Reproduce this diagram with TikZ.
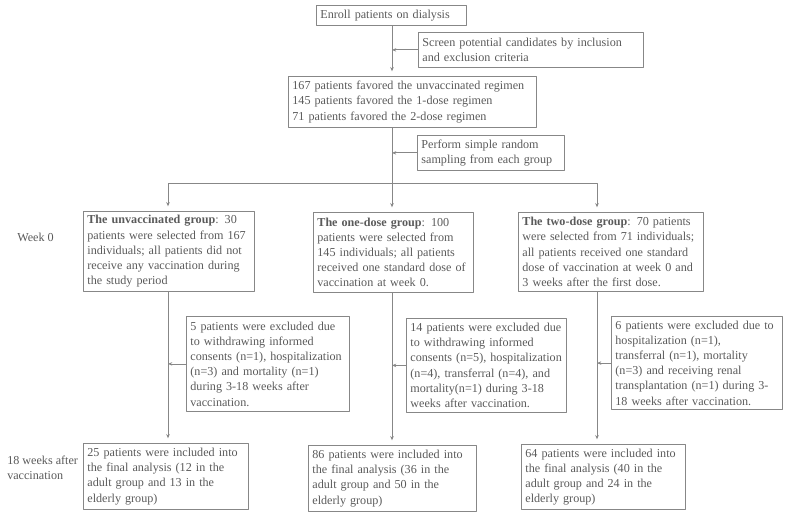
\documentclass[tikz,border=0pt]{standalone}
\usepackage{fontspec}
\setmainfont{Liberation Serif}
\usetikzlibrary{arrows.meta}
\definecolor{txtgray}{RGB}{90,90,90}
\definecolor{linegray}{RGB}{135,135,135}
\begin{document}
\begin{tikzpicture}[x=0.75pt, y=-0.75pt, line join=round, line cap=round, >={Stealth[length=3.2pt,width=2.6pt]},
	box/.style={draw=linegray, line width=0.6pt, text=txtgray, anchor=north west, align=left, inner xsep=3pt, inner ysep=1pt,
		font=\fontsize{9.1}{11.4}\selectfont, execute at begin node={\hyphenpenalty=10000\linepenalty=5000}},
	side/.style={text=txtgray, anchor=west, align=left, inner sep=0pt, font=\fontsize{9.1}{11.4}\selectfont},
	link/.style={draw=linegray, line width=0.6pt, ->}]
	\useasboundingbox (0,0) rectangle (787,516);
	
	% Enrollment and screening
	\node[box, text width=106.5pt, minimum height=15pt] (enroll) at (316,5) {Enroll patients on dialysis};
	\node[box, text width=162.75pt, minimum height=26.25pt] (screen) at (418,32) {Screen potential candidates by inclusion\\and exclusion criteria};
	\node[box, text width=180pt, minimum height=38.25pt] (favor) at (288,76) {167 patients favored the unvaccinated regimen\\145 patients favored the 1-dose regimen\\71 patients favored the 2-dose regimen};
	\node[box, text width=104.25pt, minimum height=26.25pt] (sample) at (417,135) {Perform simple random\\sampling from each group};
	
	% Branch points
	\coordinate (fork) at (392,183); \coordinate (forkL) at (168,183); \coordinate (forkR) at (597,183);
	
	% Groups at week 0
	\node[box, text width=122.25pt, minimum height=60pt] (unvac) at (83,211) {\textbf{The unvaccinated group}: 30\\patients were selected from 167\\individuals; all patients did not\\receive any vaccination during\\the study period};
	\node[box, text width=114pt, minimum height=60pt] (one) at (313,212) {\textbf{The one-dose group}: 100\\patients were selected from\\145 individuals; all patients\\received one standard dose of\\vaccination at week 0.};
	\node[box, text width=132.75pt, minimum height=59.5pt] (two) at (518,212) {\textbf{The two-dose group}: 70 patients\\were selected from 71 individuals;\\all patients received one standard\\dose of vaccination at week 0 and\\3 weeks after the first dose.};
	
	% Exclusions
	\node[box, text width=116.25pt, minimum height=71.25pt] (ex5) at (186,316) {5 patients were excluded due\\to withdrawing informed\\consents (n=1), hospitalization\\(n=3) and mortality (n=1)\\during 3-18 weeks after\\vaccination.};
	\node[box, text width=114pt, minimum height=70.5pt] (ex14) at (406,318) {14 patients were excluded due\\to withdrawing informed\\consents (n=5), hospitalization\\(n=4), transferral (n=4), and\\mortality(n=1) during 3-18\\weeks after vaccination.};
	\node[box, text width=122.25pt, minimum height=70pt] (ex6) at (611,316) {6 patients were excluded due to\\hospitalization (n=1),\\transferral (n=1), mortality\\(n=3) and receiving renal\\transplantation (n=1) during 3-\\18 weeks after vaccination.};
	
	% Final analysis
	\node[box, text width=117.75pt, minimum height=49.5pt] (fin25) at (83,443) {25 patients were included into\\the final analysis (12 in the\\adult group and 13 in the\\elderly group)};
	\node[box, text width=120pt, minimum height=49.5pt] (fin86) at (308,445) {86 patients were included into\\the final analysis (36 in the\\adult group and 50 in the\\elderly group)};
	\node[box, text width=117pt, minimum height=49pt] (fin64) at (521,444) {64 patients were included into\\the final analysis (40 in the\\adult group and 24 in the\\elderly group)};
	
	% Time labels
	\node[side] (week0) at (17,237) {Week 0};
	\node[side] (week18) at (7,468) {18 weeks after\\vaccination};
	
	% Connectors
	\draw[link, shorten >=3.5pt] (enroll.south -| fork) -- (favor.north -| fork);
	\draw[link] (screen.west) -- (screen.west -| fork);
	\draw[link, shorten >=3.5pt] (favor.south -| fork) -- (one.north -| fork);
	\draw[link] (sample.west) -- (sample.west -| fork);
	\draw[link, shorten >=3.5pt] (fork) -- (forkL) -- (forkL |- unvac.north);
	\draw[link, shorten >=3.5pt] (fork) -- (forkR) -- (forkR |- two.north);
	\draw[link, shorten >=3.5pt] (unvac.south -| forkL) -- (fin25.north -| forkL);
	\draw[link, shorten >=3.5pt] (one.south -| fork) -- (fin86.north -| fork);
	\draw[link, shorten >=3.5pt] (two.south -| forkR) -- (fin64.north -| forkR);
	\draw[link] (ex5.west) -- (ex5.west -| forkL);
	\draw[link] (ex14.west) -- (ex14.west -| fork);
	\draw[link] (ex6.west) -- (ex6.west -| forkR);
\end{tikzpicture}
\end{document}
